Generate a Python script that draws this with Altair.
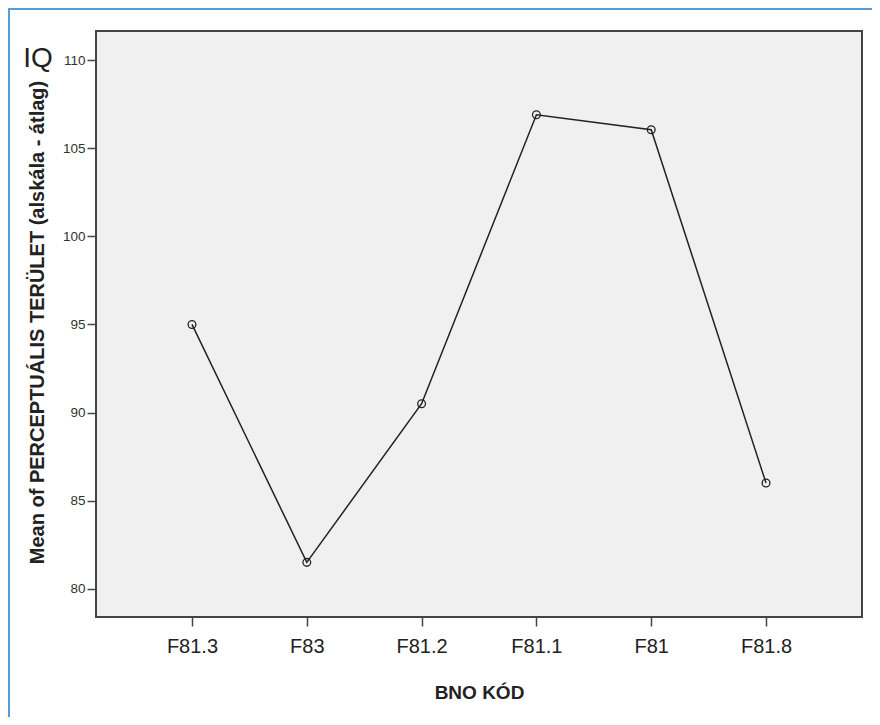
import altair as alt
import pandas as pd

categories = ["F81.3", "F83", "F81.2", "F81.1", "F81", "F81.8"]
means = [95.0, 81.5, 90.5, 106.9, 106.05, 86.0]
y_ticks = [80, 85, 90, 95, 100, 105, 110]

df = pd.DataFrame({"cat": categories, "mean": means})

FONT = "Liberation Sans"
W, H = 766, 586

x_enc = alt.X("cat:N", sort=categories,
              scale=alt.Scale(type="point", padding=0.836),
              axis=alt.Axis(title="BNO KÓD", labelFontSize=20, labelColor="#222",
                            labelFont=FONT, titleFont=FONT, titleFontSize=19,
                            titleFontWeight="bold", titleColor="#222",
                            tickSize=9, tickColor="#444", tickWidth=1.5, domain=False,
                            labelPadding=10, titlePadding=27, grid=False, labelAngle=0))
y_enc = alt.Y("mean:Q", scale=alt.Scale(domain=[78.4, 111.65], nice=False, zero=False),
              axis=alt.Axis(title="Mean of PERCEPTUÁLIS TERÜLET (alskála - átlag)",
                            values=y_ticks, labelFontSize=13.5, labelColor="#333",
                            labelFont=FONT, titleFont=FONT, titleFontSize=20,
                            titleFontWeight="bold", titleColor="#222",
                            tickSize=9, tickColor="#444", tickWidth=1.5, domain=False, grid=False,
                            labelPadding=2, titlePadding=15, titleY=291))

base = alt.Chart(df)
line = base.mark_line(color="#222", strokeWidth=1.5).encode(x=x_enc, y=y_enc)
pts = base.mark_point(shape="circle", size=60, filled=False, color="#222",
                      strokeWidth=1.3, opacity=1).encode(x=x_enc, y=y_enc)

iq = alt.Chart(pd.DataFrame({"t": ["IQ"]})).mark_text(
    font=FONT, fontSize=28, color="#222", align="center", baseline="middle"
).encode(text="t:N", x=alt.value(-58), y=alt.value(28))

top_border = alt.Chart(pd.DataFrame({"a": [0]})).mark_rule(
    color="#5b9bd5", strokeWidth=2).encode(x=alt.value(-88), x2=alt.value(W + 10), y=alt.value(-22))
left_border = alt.Chart(pd.DataFrame({"a": [0]})).mark_rule(
    color="#5b9bd5", strokeWidth=2).encode(x=alt.value(-87), y=alt.value(-23), y2=alt.value(H + 100))

chart = alt.layer(line, pts, iq, top_border, left_border).properties(
    width=W, height=H,
    autosize=alt.AutoSizeParams(type="none"),
    padding={"left": 88, "top": 23, "right": 10, "bottom": 100},
    background="white",
).configure_view(fill="#f0f0f0", stroke="#444", strokeWidth=2)

chart.save("out.html", embed_options={"renderer": "svg", "actions": False})
